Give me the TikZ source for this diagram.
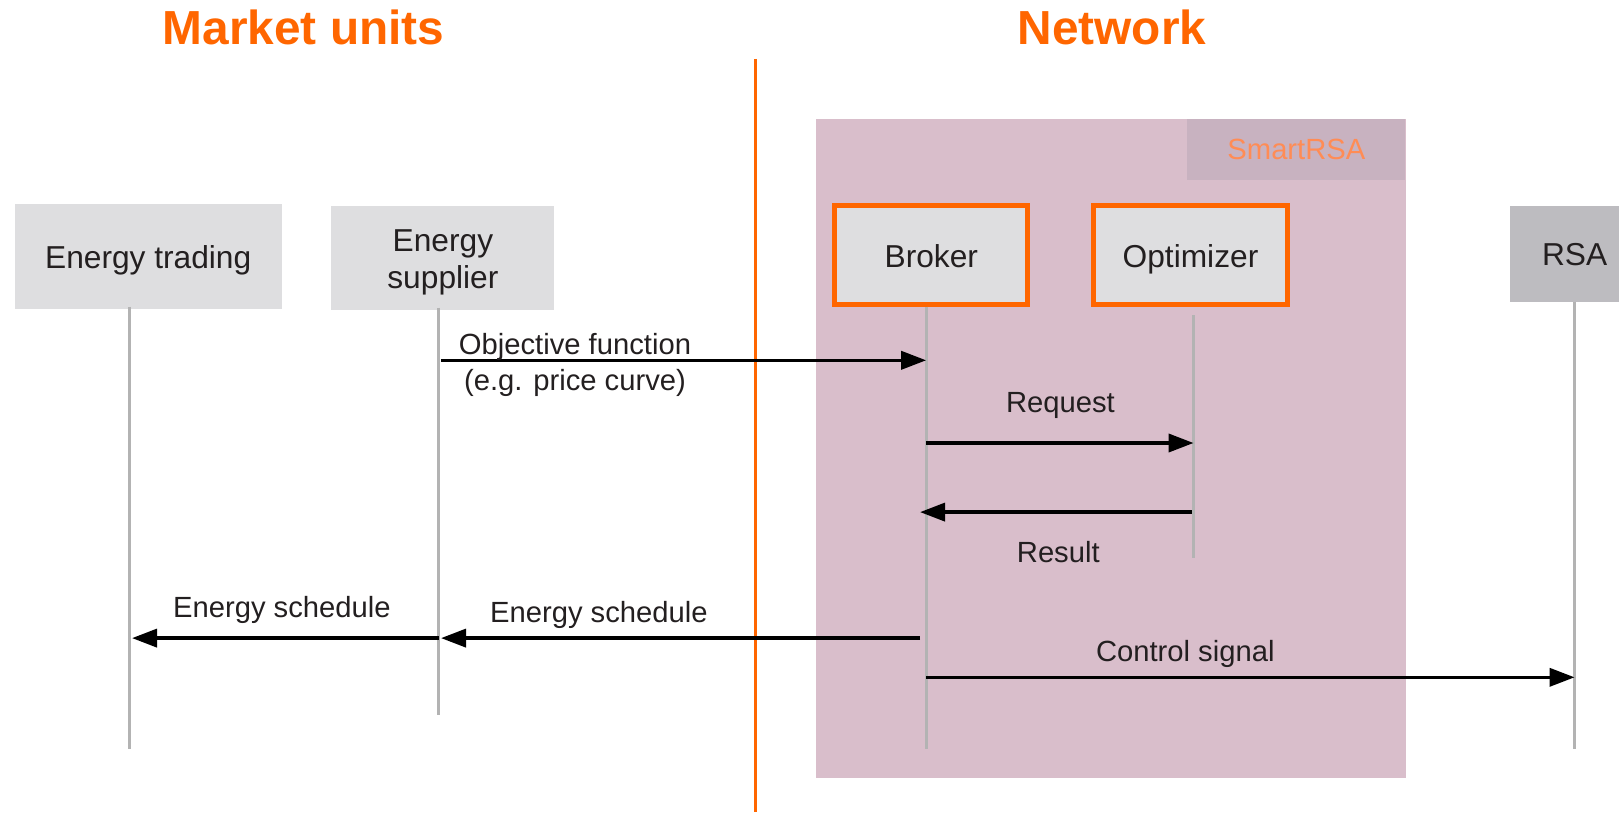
\documentclass[tikz,border=0pt]{standalone}
\usepackage{fontspec}
\setmainfont{Liberation Sans}
\usetikzlibrary{arrows.meta}
\definecolor{orng}{RGB}{255,102,0}
\definecolor{lightorng}{RGB}{255,140,85}
\definecolor{pinkbg}{RGB}{217,190,203}
\definecolor{pinkdark}{RGB}{200,178,192}
\definecolor{boxgray}{RGB}{222,222,224}
\definecolor{rsagray}{RGB}{189,188,192}
\definecolor{lifegray}{RGB}{179,179,179}
\definecolor{txt}{RGB}{35,31,32}
\tikzset{
  titlefont/.style={font=\fontsize{47.8}{55}\bfseries\selectfont, text=orng, anchor=base},
  actor/.style={fill=boxgray, inner sep=0pt, text=txt, align=center, text depth=0pt, yshift=-1pt, font=\fontsize{31.7}{37}\selectfont},
  smartactor/.style={actor, draw=orng, line width=5pt, minimum width=193.2pt, minimum height=98.2pt},
  lifeline/.style={draw=lifegray, line width=3pt},
  msg/.style={draw=black, line width=3.6pt, -{Triangle[length=25pt,width=18pt]}},
  msglabel/.style={text=txt, inner sep=0pt, yshift=-3pt, font=\fontsize{29.2}{34}\selectfont}
}
\begin{document}
\begin{tikzpicture}[x=1pt,y=-1pt]
\useasboundingbox (0,0) rectangle (1619,812);
% titles
\node[titlefont] (tmarket) at (303.6,44.4) {Market units};
\node[titlefont] (tnetwork) at (1112,44.4) {Network};
% network region
\fill[pinkbg] (815.7,118.7) rectangle (1406.3,777.5);
\node[fill=pinkdark, minimum width=218pt, minimum height=61pt, inner sep=0pt,
      text=lightorng, font=\fontsize{29.2}{34}\selectfont] (smart) at (1296.4,149.2) {SmartRSA};
% divider
\coordinate (divtop) at (755.8,58.9);
\coordinate (divbot) at (755.8,812);
\draw[orng, line width=3pt] (divtop) -- (divbot);
% actors (fills at their exact places; text centred on them)
\fill[boxgray] (14.5,204.4) rectangle (281.9,306.6);
\fill[boxgray] (331.4,205.5) rectangle (554.4,307.7);
\node[actor, minimum width=267.4pt, minimum height=102.2pt] (trading) at (148.2,256.5) {Energy trading};
\node[actor, minimum width=223pt, minimum height=102.2pt] (supplier) at (442.9,257.6) {Energy\\[0pt]supplier};
\node[smartactor, yshift=1pt] (broker) at (931.3,255) {};
\node[smartactor, yshift=1pt] (optimizer) at (1190.5,255) {};
\node[text=txt, inner sep=0pt, text depth=0pt, font=\fontsize{31.7}{37}\selectfont] (brokerlbl) at (931.3,256) {Broker};
\node[text=txt, inner sep=0pt, text depth=0pt, font=\fontsize{31.7}{37}\selectfont] (optlbl) at (1190.5,256) {Optimizer};
\fill[rsagray] (1509.5,205.5) rectangle (1640,301.5);
\node[text=txt, inner sep=0pt, text depth=0pt, font=\fontsize{31.7}{37}\selectfont] (rsa) at (1574.6,254) {RSA};
% lifelines
\coordinate (trtop) at (129.1,306.6);   \coordinate (trbot) at (129.1,748.6);
\coordinate (sutop) at (438.8,307.7);   \coordinate (subot) at (438.8,714.5);
\coordinate (brtop) at (926.2,306.6);   \coordinate (brbot) at (926.2,748.6);
\coordinate (optop) at (1193.6,315);    \coordinate (opbot) at (1193.6,557.5);
\coordinate (rstop) at (1574.6,301.5);  \coordinate (rsbot) at (1574.6,748.6);
\draw[lifeline] (trtop) -- (trbot);
\draw[lifeline] (sutop) -- (subot);
\draw[lifeline] (brtop) -- (brbot);
\draw[lifeline] (optop) -- (opbot);
\draw[lifeline] (rstop) -- (rsbot);
% message anchor points
\coordinate (su-obj) at (440.9,360.3);  \coordinate (br-obj) at (926.2,360.3);
\coordinate (br-req) at (926.2,443);    \coordinate (op-req) at (1193.6,443);
\coordinate (op-res) at (1191.5,512.1); \coordinate (br-res) at (920,512.1);
\coordinate (br-es) at (920,638.1);     \coordinate (su-esin) at (441,638.1);
\coordinate (su-es) at (438.8,638.1);   \coordinate (tr-es) at (132,638.1);
\coordinate (br-cs) at (926.2,677.3);   \coordinate (rs-cs) at (1574.6,677.3);
% messages
\draw[msg] (su-obj) -- (br-obj);
\draw[msg] (br-req) -- (op-req);
\draw[msg] (op-res) -- (br-res);
\draw[msg] (br-es) -- (su-esin);
\draw[msg] (su-es) -- (tr-es);
\draw[msg] (br-cs) -- (rs-cs);
% labels
\node[msglabel] (lobj1) at (575,343.8) {Objective function};
\node[msglabel] (lobj2) at (575,380) {(e.g. price curve)};
\node[msglabel] (lreq) at (1060.4,402.7) {Request};
\node[msglabel] (lres) at (1058.3,549.3) {Result};
\node[msglabel] (les1) at (598.9,612.3) {Energy schedule};
\node[msglabel] (les2) at (281.9,607.1) {Energy schedule};
\node[msglabel] (lcs) at (1185.3,650.5) {Control signal};
\end{tikzpicture}
\end{document}
